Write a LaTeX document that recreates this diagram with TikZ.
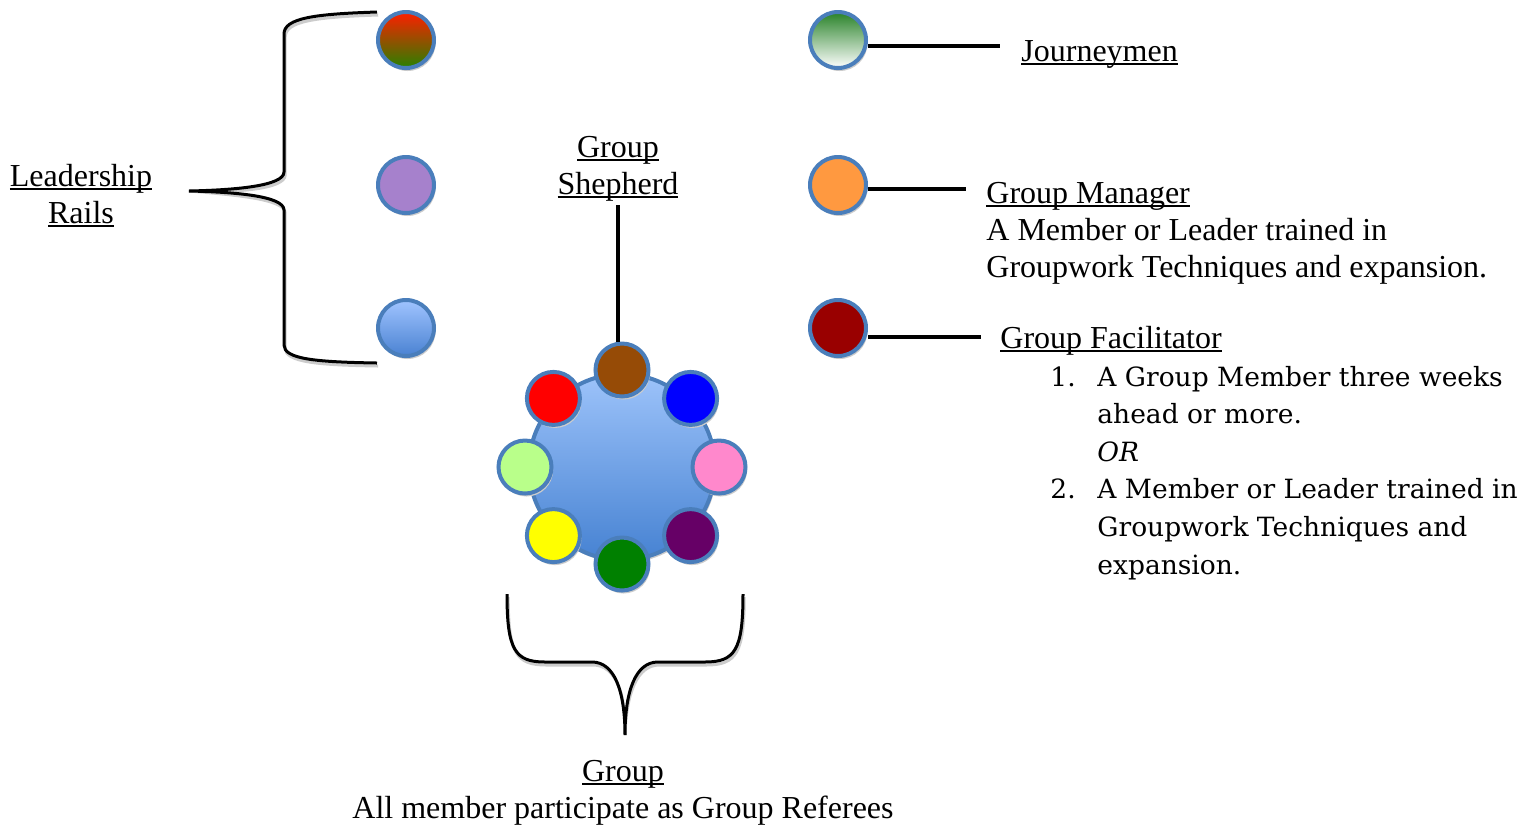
\documentclass[tikz,border=0pt]{standalone}
\usepackage{fontspec}
\setmainfont{Liberation Serif}
\newfontfamily\listfont{DejaVu Serif}
\usetikzlibrary{shadows}

\newcommand\uln[1]{\setbox0\hbox{#1}\rlap{\rule[-0.13em]{\wd0}{0.06em}}\box0}

\definecolor{rim}{RGB}{74,126,187}
\definecolor{railtop}{RGB}{255,30,0}
\definecolor{railbot}{RGB}{40,130,0}
\definecolor{lavender}{RGB}{166,129,204}
\definecolor{skytop}{RGB}{160,196,255}
\definecolor{skybot}{RGB}{74,130,210}
\definecolor{leaf}{RGB}{40,130,40}
\definecolor{tangerine}{RGB}{255,153,64}
\definecolor{maroon}{RGB}{153,0,0}
\definecolor{hubtop}{RGB}{157,195,250}
\definecolor{hubbot}{RGB}{70,130,210}
\definecolor{mbrown}{RGB}{150,75,6}
\definecolor{mblue}{RGB}{0,0,255}
\definecolor{mpink}{RGB}{255,136,204}
\definecolor{mplum}{RGB}{102,0,102}
\definecolor{mgreen}{RGB}{0,128,0}
\definecolor{myellow}{RGB}{255,255,0}
\definecolor{mlime}{RGB}{185,255,138}
\definecolor{mred}{RGB}{255,0,0}

\tikzset{
  disc/.style={circle, draw=rim, line width=2pt, minimum size=28pt, inner sep=0pt,
    general shadow={fill=gray!40, shadow xshift=0.8pt, shadow yshift=-1.5pt}},
  member/.style={disc, minimum size=26.5pt},
  bar/.style={line width=2pt, line cap=butt},
  barshade/.style={line width=2pt, gray!40, yshift=-1.6pt},
  brace/.style={line width=1.5pt},
  braceshade/.style={line width=1.5pt, gray!40, xshift=0.6pt, yshift=-1.5pt},
  txt/.style={inner sep=0pt, font=\fontsize{16pt}{18.5pt}\selectfont},
  listtxt/.style={inner sep=0pt, font=\listfont\fontsize{13.25pt}{18.8pt}\selectfont}
}

\begin{document}
\begin{tikzpicture}[x=0.5pt,y=-0.5pt]
		\useasboundingbox (0,0) rectangle (1532,827);
		%Rails
		\node[disc, top color=railtop, bottom color=railbot] (rail1) at (406,40) {};
		\node[disc, fill=lavender] (rail2) at (406,185) {};
		\node[disc, top color=skytop, bottom color=skybot] (rail3) at (406,328) {};
		\node[txt, anchor=base, align=center] (rails) at (81,223) {\uln{Leadership}\\\uln{Rails}};
		%Left brace
		\coordinate (railtip) at (189,191);
		\def\railbrace{(377,12) .. controls (315,14) and (284,18) .. (284,34) -- (284,172) .. controls (284,186) and (235,190) .. (railtip) .. controls (235,192) and (284,196) .. (284,210) -- (284,345) .. controls (284,359) and (315,362) .. (377,363)}
		\draw[braceshade] \railbrace;
		\draw[brace] \railbrace;
		%Roles
		\node[disc, top color=leaf, bottom color=white] (jman) at (838,40) {};
		\node[disc, fill=tangerine] (gman) at (838,185) {};
		\node[disc, fill=maroon] (gfac) at (838,328) {};
		\coordinate (jend) at (1000,46);
		\coordinate (mend) at (966,189);
		\coordinate (fend) at (981,337);
		\foreach \a/\b in {jman/jend, gman/mend, gfac/fend}{
			\draw[barshade] (\a.east |- \b) -- (\b);
			\draw[bar] (\a.east |- \b) -- (\b);
		}
		\node[txt, anchor=base west] (jtxt) at (1021,61) {\uln{Journeymen}};
		\node[txt, anchor=base west, align=left] (mtxt) at (986,277) {\uln{Group Manager}\\A Member or Leader trained in\\Groupwork Techniques and expansion.};
		\node[txt, anchor=base west] (ftxt) at (1000,348) {\uln{Group Facilitator}};
		\node[listtxt, anchor=base west] (num1) at (1050,386) {1.};
		\node[listtxt, anchor=base west] (num2) at (1050,498) {2.};
		\node[listtxt, anchor=base west, align=left] (ftasks) at (1097,574) {A Group Member three weeks\\ahead or more.\\\textit{OR}\\A Member or Leader trained in\\Groupwork Techniques and\\expansion.};
		%Group
		\node[disc, minimum size=93pt, top color=hubtop, bottom color=hubbot] (hub) at (622,467) {};
		\foreach \col [count=\i] in {mbrown,mblue,mpink,mplum,mgreen,myellow,mlime,mred}
			\node[member, fill=\col] (m\i) at ([shift={({45*\i-135}:97)}]hub) {};
		\node[txt, anchor=base, align=center] (shepherd) at (618,194) {\uln{Group}\\\uln{Shepherd}};
		\draw[bar] (shepherd.south) ++(0,4) -- (shepherd.south |- m1.north);
		%Bottom brace
		\coordinate (gtip) at (625,735);
		\def\groupbrace{(507,594) .. controls (507,650) and (515,662) .. (545,662) -- (592,662) .. controls (614,662) and (625,690) .. (gtip) (743,594) .. controls (743,650) and (735,662) .. (705,662) -- (658,662) .. controls (636,662) and (625,690) .. (gtip)}
		\draw[braceshade] \groupbrace;
		\draw[brace] \groupbrace;
		\node[txt, anchor=base, align=center] (grouptxt) at (623,818) {\uln{Group}\\All member participate as Group Referees};
\end{tikzpicture}
\end{document}
